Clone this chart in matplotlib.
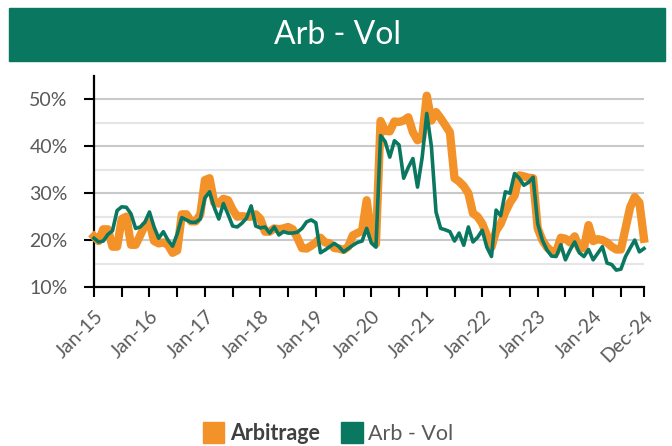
import matplotlib
matplotlib.use('Agg')
import matplotlib.pyplot as plt
from matplotlib.patches import Rectangle, Patch
import numpy as np
import pandas as pd

# monthly series, Jan-15 .. Dec-24 (values in %)
months = pd.date_range('2015-01-01', periods=120, freq='MS')

arbitrage = [
    20.8, 19.8, 22.3, 22.3, 18.6, 18.6, 24.5, 25.0, 19.0, 19.0, 21.0, 23.2,  # 2015
    23.8, 19.8, 19.3, 19.5, 19.0, 17.3, 17.8, 25.5, 25.5, 24.0, 24.0, 25.5,  # 2016
    32.8, 33.2, 28.0, 27.8, 28.8, 28.5, 26.5, 25.0, 25.1, 25.0, 25.0, 25.5,  # 2017
    24.5, 21.8, 21.8, 22.5, 22.3, 22.5, 22.8, 22.3, 20.5, 18.3, 18.2, 18.8,  # 2018
    19.5, 20.5, 19.5, 19.3, 18.3, 18.2, 17.9, 18.6, 21.0, 21.5, 22.0, 28.5,  # 2019
    21.0, 19.2, 45.4, 43.3, 43.2, 45.3, 45.2, 45.5, 46.2, 43.0, 41.3, 41.8,  # 2020
    50.8, 45.5, 47.3, 46.0, 44.5, 43.0, 33.2, 32.5, 31.5, 30.0, 25.7, 25.0,  # 2021
    23.5, 21.0, 18.5, 22.0, 23.5, 26.0, 28.0, 29.5, 33.8, 33.6, 33.3, 33.2,  # 2022
    22.5, 20.0, 18.5, 17.6, 17.5, 20.5, 20.3, 19.5, 20.8, 18.2, 18.3, 23.2,  # 2023
    19.8, 20.2, 20.0, 19.5, 18.6, 18.0, 18.0, 22.5, 27.0, 29.2, 28.0, 20.3,  # 2024
]

arb_vol = [
    20.4, 19.6, 19.8, 21.2, 22.0, 26.3, 27.1, 27.0, 25.6, 22.5, 22.8, 23.8,  # 2015
    26.0, 22.8, 20.4, 21.8, 20.0, 18.7, 21.3, 24.8, 24.3, 23.8, 23.8, 24.5,  # 2016
    29.0, 30.3, 27.0, 24.5, 27.8, 25.5, 23.0, 22.8, 23.6, 24.7, 27.3, 23.0,  # 2017
    22.6, 22.8, 21.5, 22.8, 21.1, 21.8, 21.5, 21.5, 21.7, 22.5, 23.9, 24.3,  # 2018
    23.7, 17.3, 17.9, 18.6, 19.3, 18.6, 17.5, 18.2, 18.9, 19.5, 19.8, 22.5,  # 2019
    19.4, 18.5, 42.3, 41.0, 37.7, 41.2, 40.3, 33.2, 35.5, 37.4, 31.3, 37.6,  # 2020
    47.0, 40.0, 26.0, 22.5, 22.2, 21.8, 19.8, 21.5, 18.9, 22.8, 19.6, 20.6,  # 2021
    22.1, 18.5, 16.5, 26.4, 25.2, 30.3, 30.0, 34.2, 33.2, 31.7, 32.3, 33.4,  # 2022
    23.5, 20.0, 17.9, 16.6, 16.5, 19.0, 15.8, 17.9, 19.6, 17.3, 16.5, 18.0,  # 2023
    15.8, 17.2, 18.6, 15.1, 14.8, 13.6, 13.8, 16.5, 18.3, 20.0, 17.5, 18.2,  # 2024
]

series_names = ['Arbitrage', 'Arb - Vol']
title = 'Arb - Vol'

ORANGE = '#F4922A'
GREEN = '#0A7860'
TEXT = '#595959'

plt.rcParams['font.family'] = ['Lato', 'DejaVu Sans']

W, H = 672, 446
fig = plt.figure(figsize=(W / 100, H / 100), dpi=100)

# green title banner
fig.patches.append(Rectangle((9 / W, 1 - 61 / H), 656 / W, 53 / H,
                             transform=fig.transFigure, color=GREEN, zorder=0))
fig.text(337 / W, 1 - 35 / H, title, color='white', fontsize=23,
         ha='center', va='center')

ax = fig.add_axes([94 / W, 1 - 287 / H, 550 / W, 211 / H])

x = np.arange(len(months))
ax.plot(x, arbitrage, color=ORANGE, lw=6.0, solid_joinstyle='round', zorder=3, clip_on=False)
ax.plot(x, arb_vol, color=GREEN, lw=2.6, solid_joinstyle='round', zorder=4, clip_on=False)

ax.set_xlim(0, len(months) - 1)
ax.set_ylim(10, 55)

# y axis: labelled every 10%, lighter lines at the 5% steps
ax.set_yticks([10, 20, 30, 40, 50])
ax.set_yticks([15, 25, 35, 45], minor=True)
ax.yaxis.set_major_formatter(lambda v, p: f'{v:.0f}%')
ax.grid(axis='y', which='major', color='#c9c9c9', lw=1.5)
ax.grid(axis='y', which='minor', color='#e6e6e6', lw=1.5)
ax.set_axisbelow(True)
ax.tick_params(axis='y', which='minor', length=0)
ax.tick_params(axis='y', which='major', length=7, width=1.5, color='black',
               labelsize=14, labelcolor=TEXT, pad=12)

# x axis: a tick every 6 months, labels every January plus the last month
tick_pos = list(range(0, len(months), 6)) + [len(months) - 1]
tick_lab = [months[p].strftime('%b-%y') if (p % 12 == 0 or p == len(months) - 1) else ''
            for p in tick_pos]
ax.set_xticks(tick_pos)
ax.set_xticklabels(tick_lab)
ax.tick_params(axis='x', length=7, width=1.5, color='black',
               labelsize=14, labelcolor=TEXT, pad=8)
plt.setp(ax.get_xticklabels(), rotation=45, ha='right', rotation_mode='anchor')

for s in ['top', 'right']:
    ax.spines[s].set_visible(False)
for s in ['left', 'bottom']:
    ax.spines[s].set_linewidth(1.6)
    ax.spines[s].set_color('black')

handles = [Patch(color=ORANGE), Patch(color=GREEN)]
leg = fig.legend(handles, series_names, loc='center', bbox_to_anchor=(328 / W, 1 - 433 / H),
                 ncol=2, frameon=False, fontsize=15.5, handlelength=1.0, handleheight=1.1,
                 handletextpad=0.25, columnspacing=1.0)
leg.get_texts()[0].set_fontweight('bold')
leg.get_texts()[0].set_color('#404040')
leg.get_texts()[1].set_color(TEXT)

fig.savefig('out.png', dpi=100)
